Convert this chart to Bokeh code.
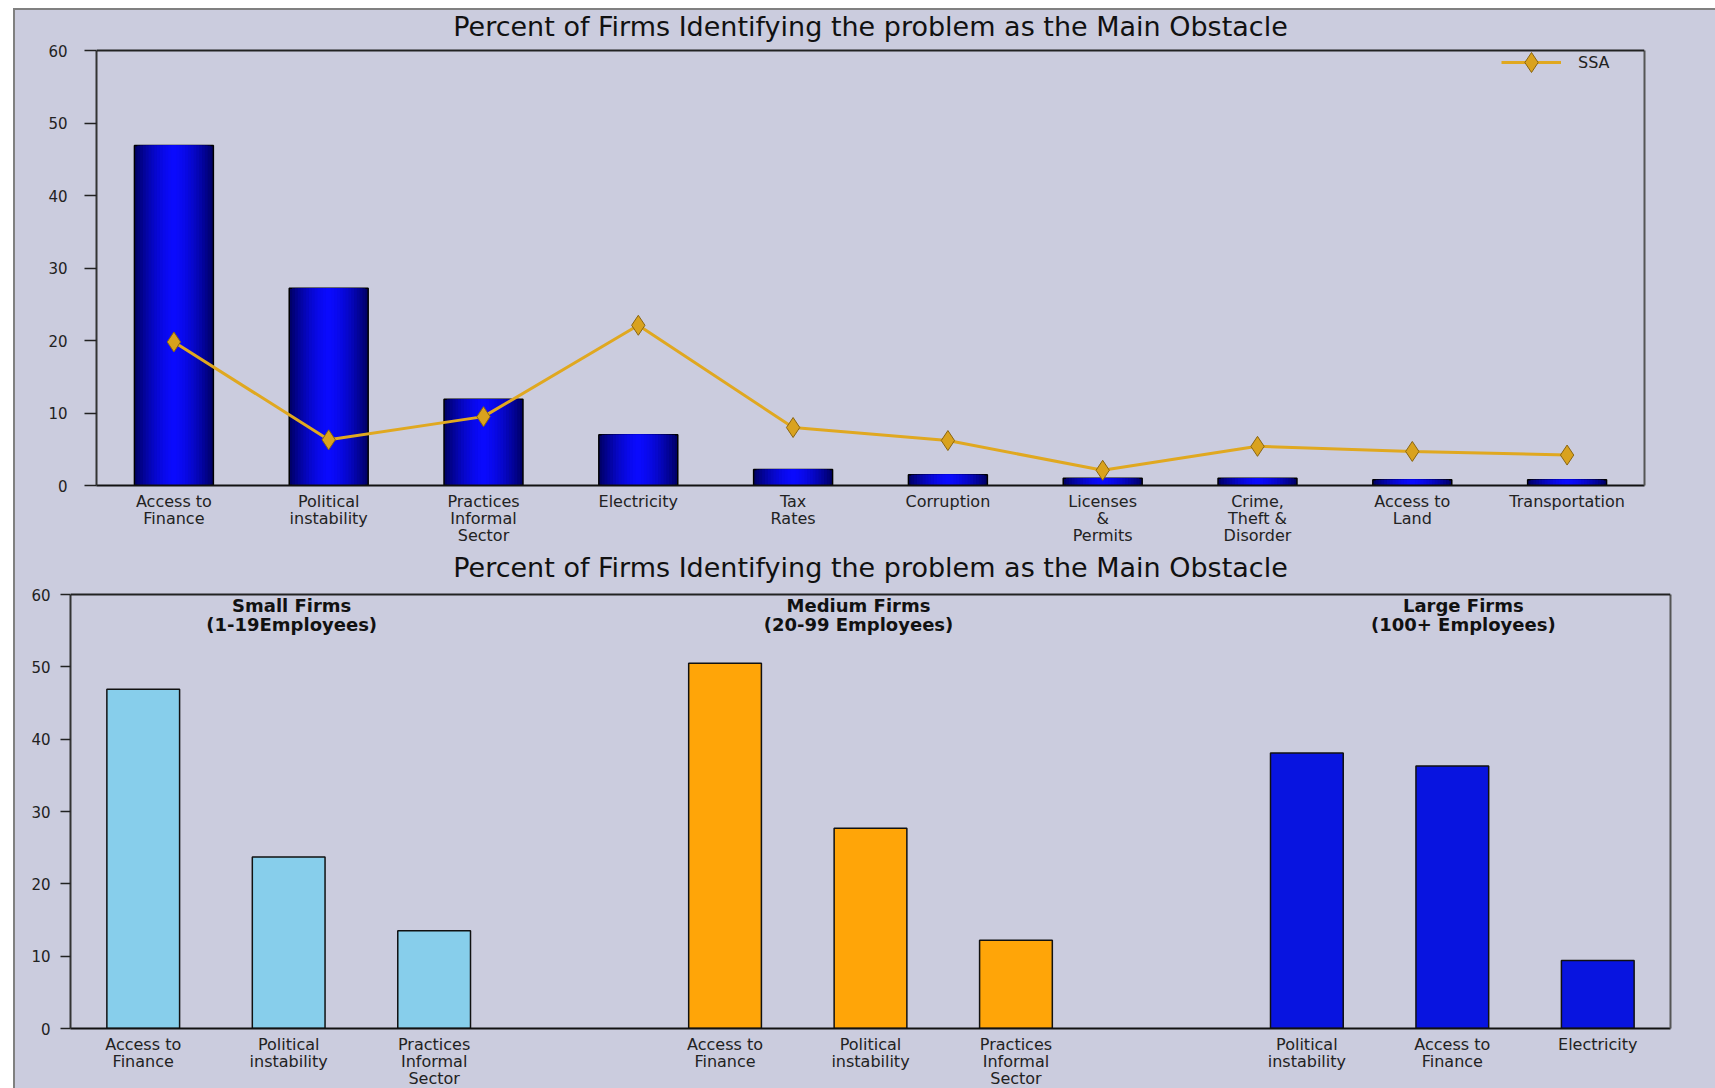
from bokeh.plotting import figure
from bokeh.models import FixedTicker, Label, Range1d, Span, LinearAxis
from bokeh.embed import file_html
from bokeh.resources import INLINE

# ---------------- data ----------------
obstacles = ["Access to\nFinance", "Political\ninstability", "Practices\nInformal\nSector",
             "Electricity", "Tax\nRates", "Corruption", "Licenses\n&\nPermits",
             "Crime,\nTheft &\nDisorder", "Access to\nLand", "Transportation"]
country_pct = [46.9, 27.2, 11.9, 7.0, 2.2, 1.5, 1.0, 1.0, 0.8, 0.8]
ssa_pct = [19.8, 6.3, 9.5, 22.1, 8.0, 6.2, 2.1, 5.4, 4.7, 4.2]

group_names = ["Small Firms", "Medium Firms", "Large Firms"]
group_sizes = ["(1-19Employees)", "(20-99 Employees)", "(100+ Employees)"]
small_labels = ["Access to\nFinance", "Political\ninstability", "Practices\nInformal\nSector"]
small_pct = [46.9, 23.7, 13.5]
medium_labels = ["Access to\nFinance", "Political\ninstability", "Practices\nInformal\nSector"]
medium_pct = [50.5, 27.7, 12.2]
large_labels = ["Political\ninstability", "Access to\nFinance", "Electricity"]
large_pct = [38.1, 36.3, 9.4]
y_ticks = [0, 10, 20, 30, 40, 50, 60]
title_text = "Percent of Firms Identifying the problem as the Main Obstacle"

# ---------------- style ----------------
BG = "#CBCCDE"
FONT = "DejaVu Sans"
Y_MAX = y_ticks[-1]


def style(p, ticks, overrides, tick_out, standoff, plot_h, title_gap):
    """plot_h: pixel height of the 0..Y_MAX area; the frame extends above it to hold the title."""
    p.background_fill_color = BG
    p.border_fill_color = BG
    p.outline_line_color = None
    p.xgrid.visible = False
    p.ygrid.visible = False
    p.xaxis.ticker = FixedTicker(ticks=ticks)
    p.xaxis.major_label_overrides = overrides
    p.xaxis.major_tick_line_color = None
    p.xaxis.minor_tick_line_color = None
    p.xaxis.axis_line_color = "#111111"
    p.xaxis.axis_line_width = 2
    p.xaxis.major_label_standoff = 0
    p.xaxis.major_label_text_font = FONT
    p.xaxis.major_label_text_font_size = "16px"
    p.xaxis.major_label_text_color = "#222222"
    p.xaxis.major_label_text_line_height = 0.92
    p.yaxis.ticker = FixedTicker(ticks=y_ticks)
    p.yaxis.bounds = (0, Y_MAX)
    p.yaxis.axis_line_color = "#333333"
    p.yaxis.axis_line_width = 2
    p.yaxis.major_tick_out = tick_out
    p.yaxis.major_tick_in = 0
    p.yaxis.major_tick_line_color = "#222222"
    p.yaxis.major_tick_line_width = 1.5
    p.yaxis.minor_tick_line_color = None
    p.yaxis.major_label_standoff = standoff
    p.yaxis.major_label_text_font = FONT
    p.yaxis.major_label_text_font_size = "15px"
    p.yaxis.major_label_text_color = "#222222"
    # plot-area border: top line at Y_MAX and a plain right axis
    p.add_layout(Span(location=Y_MAX, dimension="width", line_color="#222222", line_width=2))
    right = LinearAxis(ticker=FixedTicker(ticks=[]), bounds=(0, Y_MAX),
                       axis_line_color="#555555", axis_line_width=2,
                       major_tick_line_color=None, minor_tick_line_color=None,
                       major_label_text_font_size="0px")
    p.add_layout(right, "right")
    # chart title, centred above the plot area
    xr = p.x_range
    p.add_layout(Label(x=(xr.start + xr.end) / 2, y=plot_h + title_gap, y_units="screen",
                       text=title_text, text_align="center", text_baseline="middle",
                       text_font=FONT, text_font_size="27px", text_color="#111111"))


# ---------------- top chart ----------------
PH1 = 435            # pixels for 0..60
FH1 = 475            # frame height (includes title zone)
p1 = figure(frame_width=1548, frame_height=FH1, output_backend="svg", toolbar_location=None,
            x_range=Range1d(-0.5, 9.5), y_range=Range1d(0, Y_MAX * FH1 / PH1),
            min_border_left=81, min_border_right=71, min_border_top=0, min_border_bottom=62,
            margin=(8, 0, 0, 13),
            styles={"border-left": "2px solid #808080", "border-top": "2px solid #808080",
                    "background-color": BG})
xs1 = list(range(len(obstacles)))
style(p1, xs1, {i: lbl for i, lbl in enumerate(obstacles)}, 12, 17, PH1, 24)

# gradient-looking bars: nested layers, dark at the edges, bright in the middle
N = 14
dark = (0, 0, 105)
bright = (10, 10, 255)
for k in range(N):
    u = 1 - k / N
    t = u ** 1.6
    col = "#%02x%02x%02x" % tuple(int(round(b + (d - b) * t)) for b, d in zip(bright, dark))
    p1.vbar(x=xs1, top=country_pct, width=0.51 * u, fill_color=col,
            line_color="#000000" if k == 0 else None, line_width=1.5)

p1.line(xs1, ssa_pct, line_color="#E0A820", line_width=3, legend_label="SSA")
p1.scatter(xs1, ssa_pct, marker="diamond", size=20, fill_color="#D9A21E",
           line_color="#8A6510", line_width=1, legend_label="SSA")
lg = p1.legend[0]
lg.location = (1405, 398)
lg.background_fill_alpha = 0
lg.border_line_color = None
lg.margin = 0
lg.padding = 2
lg.glyph_width = 60
lg.glyph_height = 50
lg.label_standoff = 17
lg.label_text_font = FONT
lg.label_text_font_size = "16px"
lg.label_text_color = "#222222"

# ---------------- bottom chart ----------------
x_small = [0, 1, 2]
x_medium = [4, 5, 6]
x_large = [8, 9, 10]
PH2 = 434
FH2 = 481
p2 = figure(frame_width=1600, frame_height=FH2, output_backend="svg", toolbar_location=None,
            x_range=Range1d(-0.5, 10.5), y_range=Range1d(0, Y_MAX * FH2 / PH2),
            min_border_left=55, min_border_right=45, min_border_top=0, min_border_bottom=60,
            margin=(-1, 0, 0, 13),
            styles={"border-left": "2px solid #808080", "background-color": BG})
ov2 = {}
for xs, lbls in ((x_small, small_labels), (x_medium, medium_labels), (x_large, large_labels)):
    for x, l in zip(xs, lbls):
        ov2[x] = l
style(p2, x_small + x_medium + x_large, ov2, 10, 10, PH2, 27)

p2.vbar(x=x_small, top=small_pct, width=0.5, fill_color="#87CEEB", line_color="#111111", line_width=1.5)
p2.vbar(x=x_medium, top=medium_pct, width=0.5, fill_color="#FFA508", line_color="#111111", line_width=1.5)
p2.vbar(x=x_large, top=large_pct, width=0.5, fill_color="#0814E0", line_color="#111111", line_width=1.5)

group_nudge = [3, -12, 11]   # small horizontal nudges of the group captions (pixels)
for gx, name, size, dx in zip([1, 5, 9], group_names, group_sizes, group_nudge):
    for txt, off in ((name, 11), (size, 30)):
        p2.add_layout(Label(x=gx, y=PH2 - off, y_units="screen", x_offset=dx, text=txt,
                            text_align="center", text_baseline="middle", text_font=FONT,
                            text_font_style="bold", text_font_size="18px", text_color="#111111"))

open("out.html", "w").write(file_html([p1, p2], INLINE))
